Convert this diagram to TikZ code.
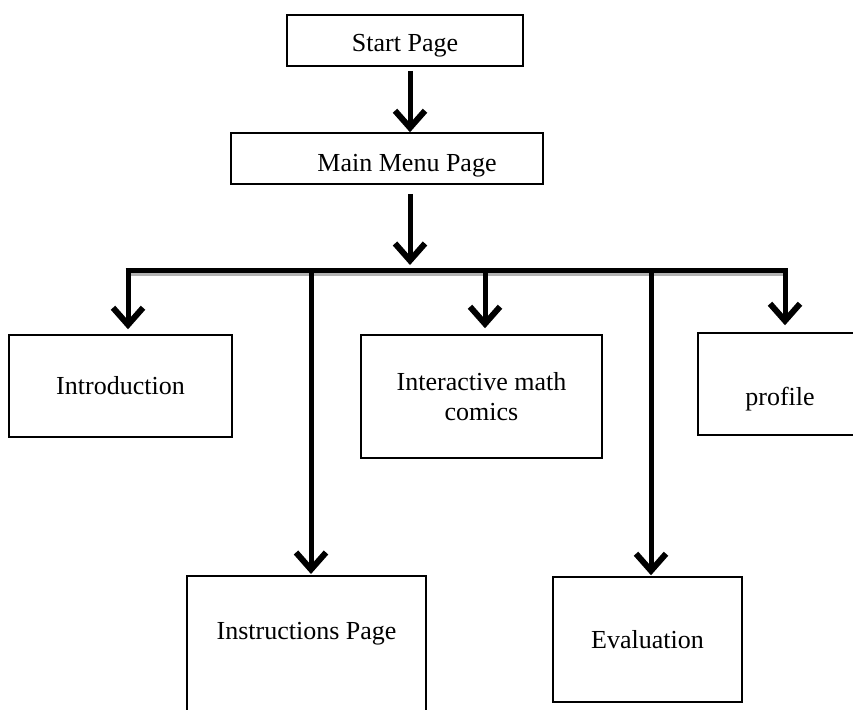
\documentclass[tikz,border=0pt]{standalone}
\usepackage{fontspec}
\setmainfont{Liberation Serif}
\usetikzlibrary{arrows.meta,positioning}

\tikzset{
  box/.style={draw, line width=1.5pt, inner sep=0pt, align=center,
    font=\fontsize{26}{30}\selectfont},
  txt/.style={inner sep=0pt, font=\fontsize{26}{30}\selectfont},
  flow/.style={line width=5pt, -{Straight Barb[length=17pt,width=30pt,line width=6pt]}},
  bus/.style={line width=5pt},
}

\begin{document}
\begin{tikzpicture}[x=1pt,y=-1pt]
    \useasboundingbox (0,0) rectangle (853,709);
    % top of the tree
    \node[box, minimum width=236, minimum height=51,
          label={[txt,yshift=-5pt]center:Start Page}] (start) at (405,40.5) {};
    \node[box, minimum width=312, minimum height=51,
          label={[txt,xshift=20pt,yshift=-7pt]center:Main Menu Page}] (menu) at (387,158.5) {};
    % the five pages
    \node[box, minimum width=223, minimum height=102] (intro) at (120.5,386) {Introduction};
    \node[box, minimum width=241, minimum height=123] (comics) at (481.5,396.5) {Interactive math\\comics};
    \node[box, minimum width=164, minimum height=102,
          label={[txt,yshift=-15pt]center:profile}] (profile) at (780,384) {};
    \node[box, minimum width=239, minimum height=150, anchor=north,
          label={[txt,yshift=17pt]center:Instructions Page}] (instr) at (306.5,575) {};
    \node[box, minimum width=189, minimum height=125] (eval) at (647.5,639.5) {Evaluation};
    % bus line
    \coordinate (busL) at (128,270);
    \coordinate (busM) at (410,270);
    \coordinate (busI) at (311,270);
    \coordinate (busC) at (485,270);
    \coordinate (busE) at (651,270);
    \coordinate (busR) at (785,270);
    \draw[gray!60, line width=4pt] ([yshift=-4pt]busL) -- ([yshift=-4pt]busR);
    \draw[bus] ([xshift=-2.5pt]busL) -- ([xshift=2.5pt]busR);
    % arrows
    \draw[flow] ([yshift=-4pt]start.south -| busM) -- (menu.north -| busM);
    \draw[flow] ([yshift=-9pt]menu.south -| busM) -- ([yshift=5pt]busM);
    \draw[flow] (busL) -- ([yshift=5pt]intro.north -| busL);
    \draw[flow] (busI) -- ([yshift=1pt]instr.north -| busI);
    \draw[flow] (busC) -- ([yshift=6pt]comics.north -| busC);
    \draw[flow] (busE) -- ([yshift=1pt]eval.north -| busE);
    \draw[flow] (busR) -- ([yshift=7pt]profile.north -| busR);
\end{tikzpicture}
\end{document}
